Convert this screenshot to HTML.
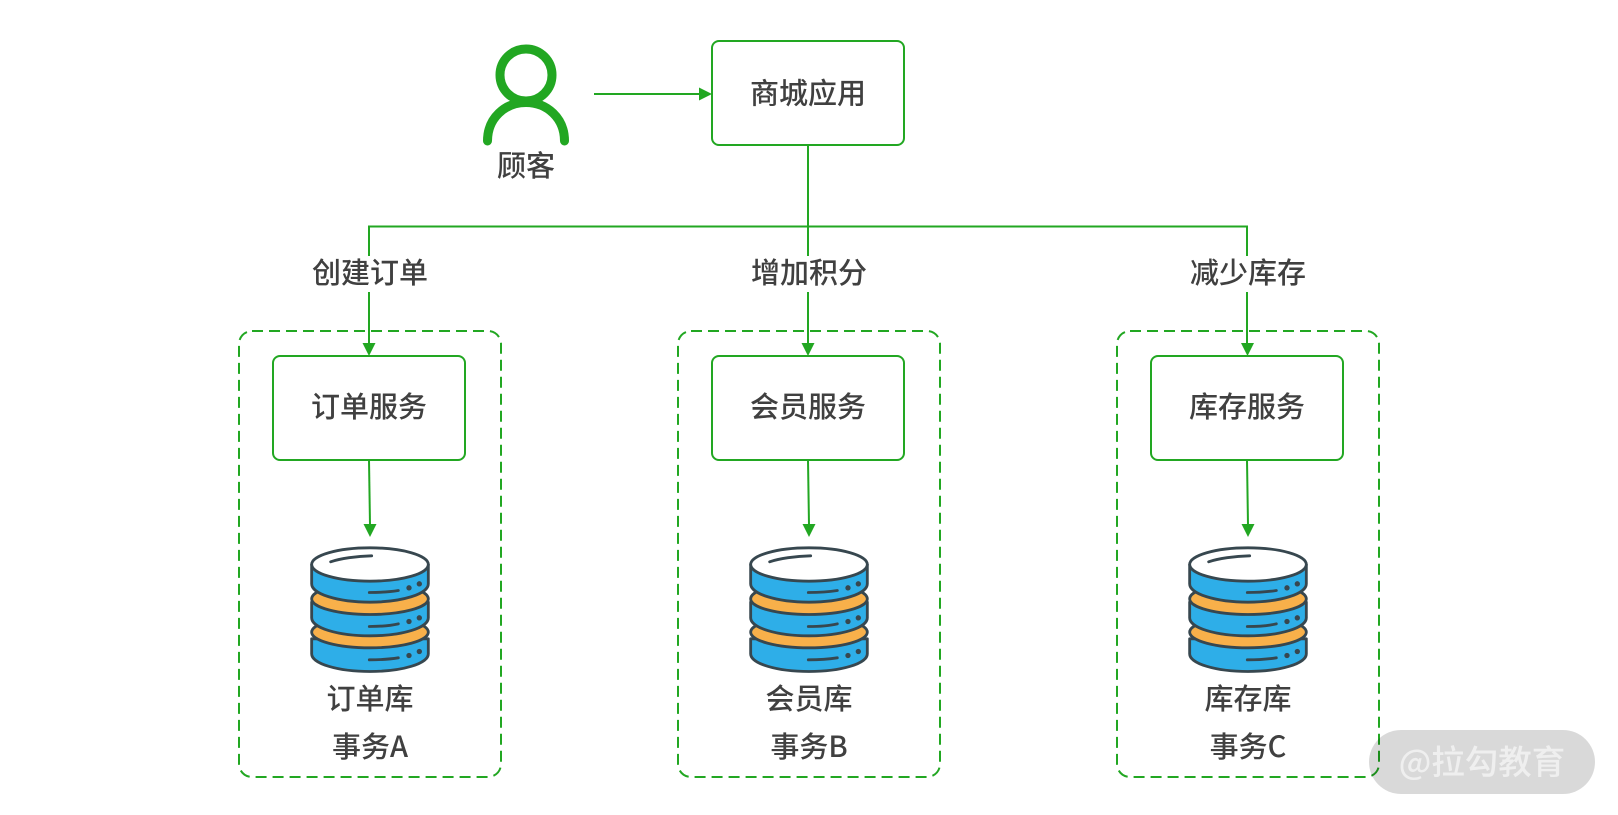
<!DOCTYPE html>
<html><head><meta charset="utf-8"><style>
html,body{margin:0;padding:0;background:#fff;width:1618px;height:815px;overflow:hidden}
svg{display:block}
text{font-family:"Noto Sans CJK SC",sans-serif;font-size:29px;font-weight:500;fill:#404040;text-anchor:middle}
</style></head><body>
<svg width="1618" height="815" viewBox="0 0 1618 815" xmlns="http://www.w3.org/2000/svg">
<defs>
<g id="db">
<g stroke="#37474f" stroke-width="8.500" stroke-linejoin="round" stroke-linecap="round">
<path d="M65 325V370A175 53 0 0 0 415 370V325Z" fill="#2eaee8"/>
<ellipse cx="240" cy="305" rx="175" ry="47" fill="#f8b04a"/>
<path d="M65 215V262A175 54 0 0 0 415 262V215Z" fill="#2eaee8"/>
<ellipse cx="240" cy="205" rx="175" ry="47" fill="#f8b04a"/>
<path d="M65 102V160A175 55 0 0 0 415 160V102Z" fill="#2eaee8"/>
<ellipse cx="240" cy="102" rx="175" ry="50" fill="#fff"/>
<path d="M122 94C150 84 200 77 245 76M238 186C270 186 300 184 325 180M238 288C270 288 300 286 325 280M238 388C270 388 300 386 325 382" fill="none"/>
</g>
<g fill="#37474f">
<circle cx="357" cy="172" r="8"/><circle cx="388" cy="160" r="8"/>
<circle cx="357" cy="273" r="8"/><circle cx="388" cy="262" r="8"/>
<circle cx="357" cy="375" r="8"/><circle cx="388" cy="363" r="8"/>
</g>
</g>
</defs>

<!-- customer -->
<circle cx="526" cy="75" r="26" fill="none" stroke="#22a722" stroke-width="9"/>
<path d="M487.5 141C487.5 118 505 102.500 526 102.500C547 102.500 564.500 118 564.500 141" fill="none" stroke="#22a722" stroke-width="9" stroke-linecap="round"/>
<text x="526" y="176">顾客</text>

<!-- app -->
<path d="M594 94H700" stroke="#22a722" stroke-width="2" fill="none"/>
<path d="M712 94L699 87.500V100.500Z" fill="#22a722"/>
<rect x="712" y="41" width="192" height="104" rx="7" fill="#fff" stroke="#22a722" stroke-width="2"/>
<text x="808" y="103.500">商城应用</text>

<!-- trunk -->
<path d="M808 145V256M808 292V343M369 343V292M369 256V226.500H1247V256M1247 292V343" fill="none" stroke="#22a722" stroke-width="2"/>

<text x="370" y="283">创建订单</text>
<text x="809" y="283">增加积分</text>
<text x="1248" y="283">减少库存</text>

<!-- dashed groups -->
<g fill="none" stroke="#22a722" stroke-width="2" stroke-dasharray="11 6">
<rect x="239" y="331" width="262" height="446" rx="13"/>
<rect x="678" y="331" width="262" height="446" rx="13"/>
<rect x="1117" y="331" width="262" height="446" rx="13"/>
</g>

<!-- arrowheads into services -->
<g fill="#22a722">
<path d="M369 356L362.500 343H375.500Z"/><path d="M808 356L801.500 343H814.500Z"/><path d="M1247.500 356L1241 343H1254Z"/>
</g>

<!-- services -->
<g fill="#fff" stroke="#22a722" stroke-width="2">
<rect x="273" y="356" width="192" height="104" rx="7"/>
<rect x="712" y="356" width="192" height="104" rx="7"/>
<rect x="1151" y="356" width="192" height="104" rx="7"/>
</g>
<text x="369" y="417">订单服务</text>
<text x="808" y="417">会员服务</text>
<text x="1247" y="417">库存服务</text>

<!-- service to db -->
<g fill="none" stroke="#22a722" stroke-width="2">
<path d="M369 460L370 525"/><path d="M808 460L809 525"/><path d="M1247 460L1248 525"/>
</g>
<g fill="#22a722">
<path d="M370 537L363.500 524H376.500Z"/><path d="M809 537L802.500 524H815.500Z"/><path d="M1248 537L1241.500 524H1254.500Z"/>
</g>

<!-- databases -->
<use href="#db" transform="translate(290 530.500) scale(.3333)"/>
<use href="#db" transform="translate(729 530.500) scale(.3333)"/>
<use href="#db" transform="translate(1168 530.500) scale(.3333)"/>

<text x="370" y="709">订单库</text>
<text x="809" y="709">会员库</text>
<text x="1248" y="709">库存库</text>
<text x="370" y="757">事务A</text>
<text x="809" y="757">事务B</text>
<text x="1248" y="757">事务C</text>

<!-- watermark -->
<rect x="1369" y="730" width="226" height="64" rx="32" fill="#000" fill-opacity=".15"/>
<text x="1482" y="774" style="font-size:33.500px;fill:#efefef">@拉勾教育</text>
</svg>
</body></html>
